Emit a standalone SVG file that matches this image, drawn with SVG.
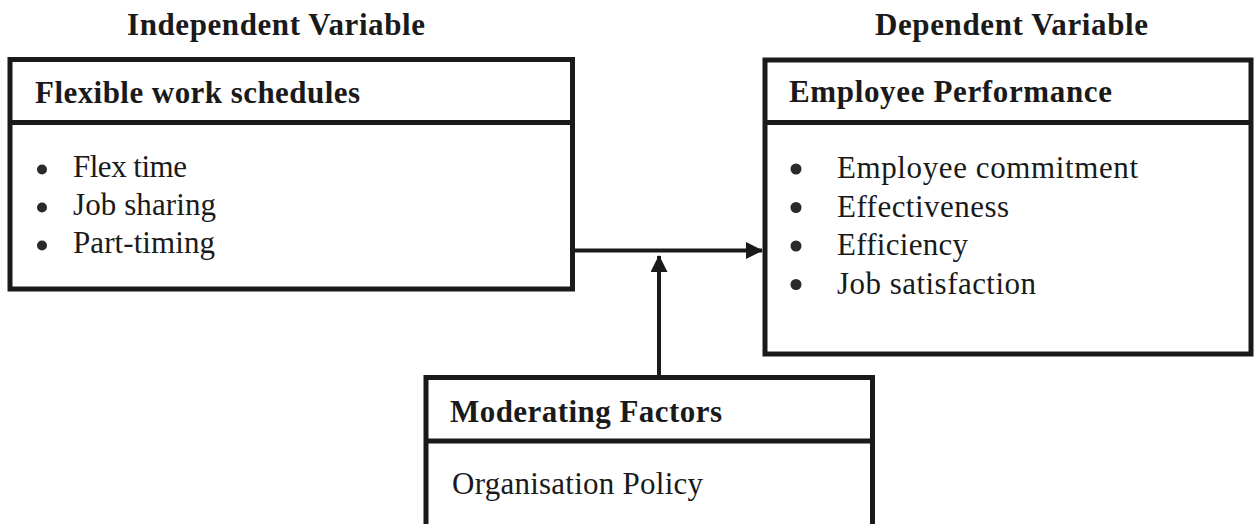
<svg xmlns="http://www.w3.org/2000/svg" width="1254" height="524" viewBox="0 0 1254 524">
<defs>
<style>
.box{fill:#ffffff;stroke:#1a1a1a;stroke-width:5}
.div{stroke:#1a1a1a;stroke-width:5}
.h{font-weight:bold;font-size:31px;fill:#1a1a1a}
.t{font-size:31px;fill:#1a1a1a}
.dot{fill:#2a2a2a}
.con{stroke:#1a1a1a;stroke-width:4;fill:none}
</style>
<marker id="ah" viewBox="0 0 17 17" refX="16" refY="8.5" markerWidth="17" markerHeight="17" markerUnits="userSpaceOnUse" orient="auto">
<path d="M0,0 L17,8.5 L0,17 Z" fill="#1a1a1a"/>
</marker>
</defs>
<rect width="1254" height="524" fill="#ffffff"/>
<g font-family="Liberation Serif, Times New Roman, serif">
<text class="h" x="127" y="35" textLength="298" lengthAdjust="spacing">Independent Variable</text>
<text class="h" x="875" y="35" textLength="273" lengthAdjust="spacing">Dependent Variable</text>
<g id="connectors">
<line class="con" x1="573" y1="250.5" x2="762" y2="250.5" marker-end="url(#ah)"/>
<line class="con" x1="659" y1="376" x2="659" y2="256" marker-end="url(#ah)"/>
</g>
<g id="node-flexible">
<rect class="box" x="10" y="59.5" width="562.5" height="229.5"/>
<line class="div" x1="10" y1="122.5" x2="572.5" y2="122.5"/>
<text class="h" x="35" y="103" textLength="325" lengthAdjust="spacing">Flexible work schedules</text>
<circle class="dot" cx="42" cy="169.5" r="5"/>
<circle class="dot" cx="42" cy="207.5" r="5"/>
<circle class="dot" cx="42" cy="245.5" r="5"/>
<text class="t" x="73" y="177" textLength="114" lengthAdjust="spacing">Flex time</text>
<text class="t" x="73" y="215" textLength="143" lengthAdjust="spacing">Job sharing</text>
<text class="t" x="73" y="253" textLength="142" lengthAdjust="spacing">Part-timing</text>
</g>
<g id="node-performance">
<rect class="box" x="765" y="60" width="486" height="294"/>
<line class="div" x1="765" y1="122.5" x2="1251" y2="122.5"/>
<text class="h" x="789" y="102" textLength="323" lengthAdjust="spacing">Employee Performance</text>
<circle class="dot" cx="796" cy="169" r="5.5"/>
<circle class="dot" cx="796" cy="207.5" r="5.5"/>
<circle class="dot" cx="796" cy="246" r="5.5"/>
<circle class="dot" cx="796" cy="284.5" r="5.5"/>
<text class="t" x="837" y="178" textLength="301" lengthAdjust="spacing">Employee commitment</text>
<text class="t" x="837" y="216.5" textLength="172" lengthAdjust="spacing">Effectiveness</text>
<text class="t" x="837" y="255" textLength="131" lengthAdjust="spacing">Efficiency</text>
<text class="t" x="837" y="293.5" textLength="199" lengthAdjust="spacing">Job satisfaction</text>
</g>
<g id="node-moderating">
<rect class="box" x="426" y="377.5" width="446.5" height="160"/>
<line class="div" x1="426" y1="441" x2="872.5" y2="441"/>
<text class="h" x="450" y="422" textLength="272" lengthAdjust="spacing">Moderating Factors</text>
<text class="t" x="452" y="494" textLength="251" lengthAdjust="spacing">Organisation Policy</text>
</g>
</g>
</svg>
